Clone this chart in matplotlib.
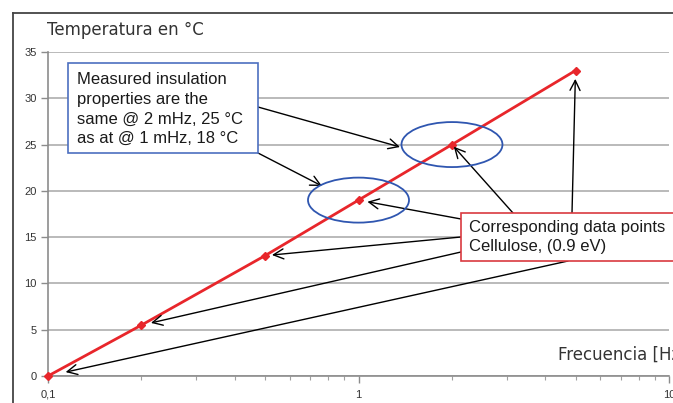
import matplotlib
matplotlib.use("Agg")
import matplotlib.pyplot as plt
from matplotlib.patches import Rectangle, Ellipse
from matplotlib.lines import Line2D
from matplotlib.transforms import ScaledTranslation
from matplotlib.ticker import FixedLocator, FixedFormatter, LogLocator, NullFormatter

# Frequency (Hz) vs. temperature (°C) for cellulose, 0.9 eV
freq = [0.1, 0.2, 0.5, 1, 2, 5]
temp = [0, 5.5, 13, 19, 25, 33]

x_ticks = [0.1, 1, 10]
x_tick_labels = ["0,1", "1", "10"]
y_ticks = [0, 5, 10, 15, 20, 25, 30, 35]

W, H = 673, 403
plt.rcParams["font.family"] = ["Liberation Sans", "DejaVu Sans"]

fig = plt.figure(figsize=(W / 100, H / 100), dpi=100)


def px(x, y):
    # pixel position (top-left origin) -> figure fraction
    return (x / W, 1 - y / H)


ax = fig.add_axes([48 / W, 27 / H, (669 - 48) / W, (376 - 52) / H])
ax.set_xscale("log")
ax.set_xlim(0.1, 10)
ax.set_ylim(0, 35)

ax.plot(freq, temp, color="#e8262b", lw=2.0, marker="D", ms=4.5,
        zorder=3, clip_on=False)

ax.set_yticks(y_ticks)
ax.xaxis.set_major_locator(FixedLocator(x_ticks))
ax.xaxis.set_major_formatter(FixedFormatter(x_tick_labels))
ax.xaxis.set_minor_locator(LogLocator(base=10, subs=range(2, 10)))
ax.xaxis.set_minor_formatter(NullFormatter())
ax.grid(axis="y", color="#b4b4b4", lw=1.3)
ax.set_axisbelow(True)
for s in ("top", "right"):
    ax.spines[s].set_visible(False)
for s in ("left", "bottom"):
    ax.spines[s].set_color("#8c8c8c")
    ax.spines[s].set_linewidth(1.2)
ax.tick_params(axis="y", length=5, width=1, color="#8c8c8c", pad=3,
               labelsize=8, labelcolor="#333333")
ax.tick_params(axis="x", which="major", length=5, width=1, color="#8c8c8c",
               pad=5, labelsize=8, labelcolor="#333333")
ax.tick_params(axis="x", which="minor", length=3, width=0.8, color="#a0a0a0")

# outer frame (top and left edges)
fig.add_artist(Line2D([px(13, 0)[0], 1], [px(0, 13)[1]] * 2,
                      color="#444444", lw=1.3, transform=fig.transFigure))
fig.add_artist(Line2D([px(13, 0)[0]] * 2, [0, px(0, 13)[1]],
                      color="#444444", lw=1.3, transform=fig.transFigure))

fig.text(*px(47, 30), "Temperatura en °C", fontsize=12, color="#333333",
         family=["DejaVu Sans"], va="center", ha="left")
fig.text(*px(558, 355), "Frecuencia [Hz]", fontsize=12, color="#333333",
         family=["DejaVu Sans"], va="center", ha="left")

# ellipses around the two equivalent points
for fx, ty in [(1, 19), (2, 25)]:
    e = Ellipse((0, 0), 1.01, 0.45, fill=False, ec="#2f56b0", lw=1.3,
                transform=fig.dpi_scale_trans + ScaledTranslation(fx, ty, ax.transData),
                zorder=4)
    fig.add_artist(e)

# note box (blue)
fig.add_artist(Rectangle(px(68, 153), 190 / W, 90 / H, transform=fig.transFigure,
                         fc="white", ec="#4d6fc0", lw=1.2, zorder=5))
fig.text(*px(77, 109), "Measured insulation\nproperties are the\nsame @ 2 mHz, 25 °C\nas at @ 1 mHz, 18 °C",
         fontsize=12, color="#1a1a1a", va="center", ha="left", zorder=6,
         linespacing=1.4)

# data-point box (red)
fig.add_artist(Rectangle(px(461, 261), 230 / W, 48 / H, transform=fig.transFigure,
                         fc="white", ec="#d9393f", lw=1.2, zorder=5))
fig.text(*px(469, 237), "Corresponding data points\nCellulose, (0.9 eV)",
         fontsize=12, color="#1a1a1a", va="center", ha="left", zorder=6,
         linespacing=1.4)

arrow = dict(arrowstyle="->,head_length=0.6,head_width=0.3", color="black",
             lw=1.0, shrinkA=0, mutation_scale=12)

# arrows from the red box to each data point
starts = [(568, 261), (461, 252), (461, 237), (461, 219), (513, 213), (572, 213)]
shrinks = [13, 7, 5, 6.5, 2, 6]
for f, t, (sx, sy), sb in zip(freq, temp, starts, shrinks):
    ax.annotate("", xy=(f, t), xycoords="data", xytext=px(sx, sy),
                textcoords="figure fraction", annotation_clip=False,
                arrowprops=dict(arrow, shrinkB=sb), zorder=4)

# arrows from the blue box to the ellipses
for (sx, sy), (tx, ty) in [((258, 107), (400, 147)), ((258, 153), (322, 186))]:
    ax.annotate("", xy=px(tx, ty), xycoords="figure fraction", xytext=px(sx, sy),
                textcoords="figure fraction", annotation_clip=False,
                arrowprops=dict(arrow, shrinkB=0), zorder=4)

fig.savefig("out.png", dpi=100)
